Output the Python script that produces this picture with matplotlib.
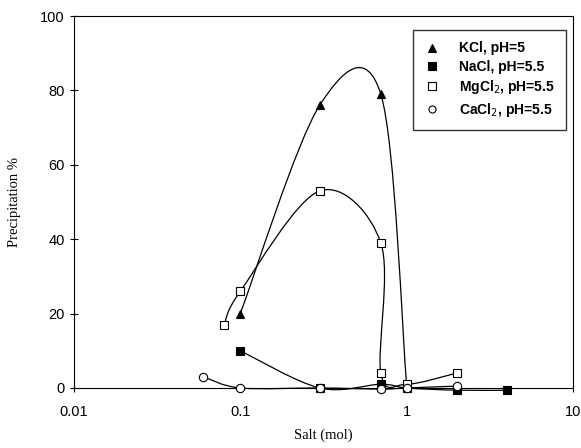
import numpy as np
import matplotlib
matplotlib.use("Agg")
import matplotlib.pyplot as plt
from matplotlib.path import Path
from matplotlib.patches import PathPatch

# data (Salt mol vs Precipitation %)
kcl_x = [0.1, 0.3, 0.7, 1.0]
kcl_y = [20, 76, 79, 1]

nacl_x = [0.1, 0.3, 0.7, 1.0, 2.0, 4.0]
nacl_y = [10, 0, 1, 0, -0.6, -0.6]

mgcl_x = [0.08, 0.1, 0.3, 0.7, 0.7, 1.0, 2.0]
mgcl_y = [17, 26, 53, 39, 4, 1, 4]

cacl_x = [0.06, 0.1, 0.3, 0.7, 1.0, 2.0]
cacl_y = [3, 0, 0, -0.3, 0, 0.5]

labels = ["KCl, pH=5", "NaCl, pH=5.5", "MgCl$_2$, pH=5.5", "CaCl$_2$, pH=5.5"]
xticks = [0.01, 0.1, 1, 10]
xticklabels = ["0.01", "0.1", "1", "10"]
yticks = [0, 20, 40, 60, 80, 100]


def smooth_path(xs, ys):
    # Excel style smoothed line : bezier through points, computed in log-x space
    pts = np.column_stack([np.log10(xs), ys]).astype(float)
    n = len(pts)
    verts = [pts[0]]
    codes = [Path.MOVETO]
    for i in range(n - 1):
        p0 = pts[i - 1] if i > 0 else pts[i]
        p1 = pts[i]
        p2 = pts[i + 1]
        p3 = pts[i + 2] if i + 2 < n else pts[i + 1]
        c1 = p1 + (p2 - p0) / 6
        c2 = p2 - (p3 - p1) / 6
        verts += [c1, c2, p2]
        codes += [Path.CURVE4] * 3
    verts = np.array(verts)
    verts[:, 0] = 10 ** verts[:, 0]
    return Path(verts, codes)


fig = plt.figure(figsize=(5.81, 4.48), dpi=100)
ax = fig.add_axes([0.1274, 0.134, 0.8586, 0.83])
ax.set_xscale("log")
ax.set_xlim(0.01, 10)
ax.set_ylim(0, 100)

series = [
    (kcl_x, kcl_y, "^", "black"),
    (nacl_x, nacl_y, "s", "black"),
    (mgcl_x, mgcl_y, "s", "white"),
    (cacl_x, cacl_y, "o", "white"),
]

for (xs, ys, mk, fc), lab in zip(series, labels):
    patch = PathPatch(smooth_path(xs, ys), facecolor="none", edgecolor="black",
                      linewidth=0.9, clip_on=False, zorder=2)
    ax.add_patch(patch)
    ax.plot(xs, ys, linestyle="none", marker=mk, markersize=6,
            markerfacecolor=fc, markeredgecolor="black", markeredgewidth=0.8,
            clip_on=False, zorder=3, label=lab)

ax.set_xticks(xticks)
ax.set_xticklabels(xticklabels)
ax.set_yticks(yticks)
ax.minorticks_off()
ax.tick_params(axis="both", direction="inout", length=6, width=0.8, labelsize=10.5)
ax.tick_params(axis="x", pad=9)
for lbl in ax.get_xticklabels() + ax.get_yticklabels():
    lbl.set_family("Liberation Sans")

for sp in ax.spines.values():
    sp.set_linewidth(0.8)

ax.set_xlabel("Salt (mol)", family="Liberation Serif", fontsize=10.5, labelpad=7)
ax.set_ylabel("Precipitation %", family="Liberation Serif", fontsize=10.5, labelpad=14)

leg = ax.legend(loc="upper right", bbox_to_anchor=(0.986, 0.962), borderaxespad=0,
                frameon=True, fancybox=False, edgecolor="black",
                prop={"family": "Liberation Sans", "weight": "bold", "size": 10},
                handletextpad=1.3, labelspacing=0.32, borderpad=0.8,
                handlelength=1.2, markerscale=0.85)
leg.get_frame().set_linewidth(1.0)

fig.savefig("out.png", dpi=100)
